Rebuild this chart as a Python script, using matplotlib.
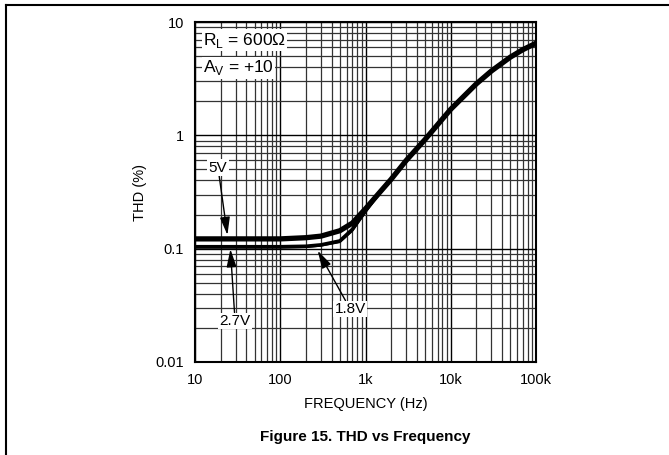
import matplotlib
matplotlib.use('Agg')
import matplotlib.pyplot as plt
from matplotlib.lines import Line2D

plt.rcParams['font.family'] = ['Liberation Sans', 'DejaVu Sans']
plt.rcParams['mathtext.fontset'] = 'custom'
plt.rcParams['mathtext.rm'] = 'Liberation Sans'

# frequency points (Hz)
freq = [10, 20, 50, 100, 200, 300, 500, 700, 1000, 1500, 2000, 3000,
        5000, 7000, 10000, 15000, 20000, 30000, 50000, 70000, 100000]

# THD (%)
thd_5v = [0.122, 0.122, 0.122, 0.122, 0.125, 0.129, 0.144, 0.168, 0.225, 0.32,
          0.41, 0.60, 0.92, 1.24, 1.70, 2.3, 2.85, 3.7, 4.9, 5.7, 6.5]
thd_27v = [0.104, 0.104, 0.104, 0.104, 0.105, 0.108, 0.117, 0.148, 0.215, 0.32,
           0.41, 0.60, 0.92, 1.24, 1.70, 2.3, 2.85, 3.7, 4.9, 5.7, 6.5]
thd_18v = [0.102, 0.102, 0.102, 0.102, 0.103, 0.106, 0.114, 0.143, 0.21, 0.32,
           0.41, 0.60, 0.92, 1.24, 1.70, 2.3, 2.85, 3.7, 4.9, 5.7, 6.5]

xticks = [10, 100, 1000, 10000, 100000]
xticklabels = ['10', '100', '1k', '10k', '100k']
yticks = [0.01, 0.1, 1, 10]
yticklabels = ['0.01', '0.1', '1', '10']

fig = plt.figure(figsize=(6.69, 4.55), dpi=100)
ax = fig.add_axes([0.2915, 0.2044, 0.5097, 0.7472])

ax.set_xscale('log')
ax.set_yscale('log')
ax.set_xlim(10, 100000)
ax.set_ylim(0.01, 10)

ax.grid(True, which='major', color='black', lw=1.0)
ax.grid(True, which='minor', color='#333333', lw=0.9)
ax.set_axisbelow(True)

ax.plot(freq, thd_18v, color='black', lw=1.3, solid_capstyle='butt')
ax.plot(freq, thd_27v, color='black', lw=2.6, solid_capstyle='butt')
ax.plot(freq, thd_5v, color='black', lw=3.8, solid_capstyle='butt')

ax.set_xticks(xticks)
ax.set_xticklabels(xticklabels)
ax.set_yticks(yticks)
ax.set_yticklabels(yticklabels)
ax.tick_params(which='both', length=0, labelsize=10.5, pad=8)
ax.minorticks_on()
ax.tick_params(which='minor', length=0)
ax.xaxis.set_minor_formatter(plt.NullFormatter())
ax.yaxis.set_minor_formatter(plt.NullFormatter())
for s in ax.spines.values():
    s.set_linewidth(1.5)

ax.set_xlabel('FREQUENCY (Hz)', fontsize=10.5, labelpad=7)
ax.set_ylabel('THD (%)', fontsize=10.5, labelpad=6)

box = dict(facecolor='white', edgecolor='none', pad=1)
ax.text(12.4, 6.9, r'R$_\mathregular{L}$ = 600Ω', fontsize=12.5, ha='left', va='center', bbox=box)
ax.text(12.4, 3.95, r'A$_\mathregular{V}$ = +10', fontsize=12.5, ha='left', va='center', bbox=box)

arrow = dict(arrowstyle='-|>,head_length=0.9,head_width=0.25', color='black', lw=1,
             mutation_scale=12, shrinkA=0, shrinkB=0)
ax.annotate('5V', xy=(24, 0.132), xytext=(18.6, 0.52), fontsize=11,
            ha='center', va='center', bbox=box, arrowprops=arrow)
ax.annotate('2.7V', xy=(26, 0.099), xytext=(29.5, 0.023), fontsize=11,
            ha='center', va='center', bbox=box, arrowprops=arrow)
ax.annotate('1.8V', xy=(275, 0.096), xytext=(660, 0.0294), fontsize=11,
            ha='center', va='center', bbox=box, arrowprops=arrow)

fig.text(0.5457, 1 - 437 / 455, 'Figure 15. THD vs Frequency', fontsize=11,
         fontweight='bold', ha='center', va='center')

# page border lines (left and top)
fig.add_artist(Line2D([6 / 669, 6 / 669], [0, 1 - 5 / 455], color='black', lw=1.5,
                      transform=fig.transFigure))
fig.add_artist(Line2D([6 / 669, 1], [1 - 5 / 455, 1 - 5 / 455], color='black', lw=1.5,
                      transform=fig.transFigure))

fig.savefig('out.png', dpi=100)
